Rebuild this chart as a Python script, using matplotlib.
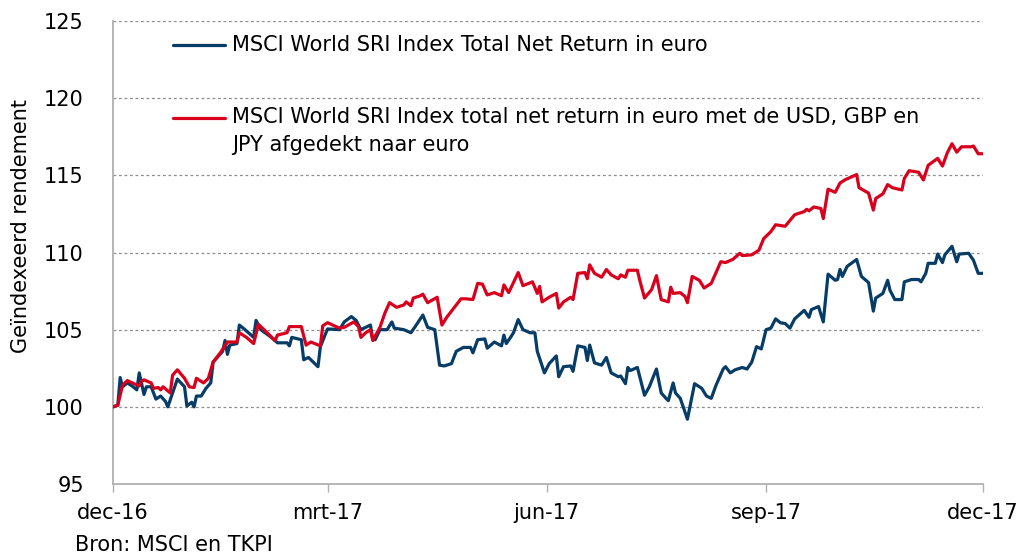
import numpy as np
import matplotlib
matplotlib.use('Agg')
import matplotlib.pyplot as plt

# ---- Data ----
START = np.datetime64('2016-12-01')

blue_days = [0, 2, 3, 4, 6, 8, 10, 11, 13, 14, 16, 18, 20, 22, 23, 27, 30, 31, 33, 34,
             35, 37, 39, 41, 42, 46, 47, 48, 49, 52, 53, 55, 59, 60, 62, 66, 69, 73, 74, 75,
             79, 80, 82, 86, 87, 90, 95, 97, 100, 102, 104, 108, 109, 110, 112, 115, 117, 118,
             122, 125, 127, 130, 132, 135, 137, 139, 142, 144, 147, 150, 151, 153, 156, 157,
             160, 163, 164, 165, 167, 168, 170, 172, 175, 177, 178, 181, 183, 186, 187, 189,
             192, 193, 195, 198, 199, 200, 202, 205, 207, 209, 212, 213, 215, 216, 217, 220,
             223, 225, 228, 230, 232, 233, 235, 236, 238, 241, 244, 247, 249, 251, 253, 256,
             257, 259, 261, 264, 266, 268, 270, 272, 274, 276, 278, 280, 282, 284, 286, 290,
             292, 293, 296, 298, 300, 303, 304, 305, 306, 308, 312, 314, 317, 319, 320, 323,
             325, 326, 328, 331, 332, 335, 338, 339, 341, 342, 345, 346, 348, 349, 352, 354,
             355, 359, 361, 363, 365]
blue_vals = [100.0, 100.1, 101.9, 101.3, 101.55, 101.35, 101.1, 102.2, 100.8, 101.3, 101.3,
             100.5, 100.7, 100.35, 100.0, 101.8, 101.3, 100.05, 100.3, 100.0, 100.7, 100.7,
             101.2, 101.55, 102.9, 103.6, 104.3, 103.4, 104.0, 104.1, 105.3, 105.05, 104.5,
             105.6, 105.0, 104.55, 104.15, 104.15, 103.95, 104.5, 104.35, 103.05, 103.2, 102.6,
             103.9, 105.05, 105.0, 105.5, 105.85, 105.6, 105.0, 105.3, 104.35, 104.35, 105.0,
             105.0, 105.5, 105.1, 105.0, 104.8, 105.25, 105.95, 105.15, 105.0, 102.7, 102.65,
             102.8, 103.6, 103.85, 103.85, 103.5, 104.35, 104.4, 103.8, 104.2, 103.95, 104.65,
             104.1, 104.55, 104.8, 105.65, 105.0, 104.8, 104.8, 103.6, 102.2, 102.8, 103.3,
             101.95, 102.6, 102.65, 102.3, 103.95, 103.85, 103.0, 104.0, 102.85, 102.7, 103.2,
             102.2, 101.95, 102.0, 101.5, 102.55, 102.35, 102.55, 100.75, 101.3, 102.45, 100.9,
             100.55, 100.4, 101.55, 100.9, 100.55, 99.2, 101.5, 101.2, 100.7, 100.55, 101.4,
             102.45, 102.6, 102.2, 102.4, 102.55, 102.45, 102.9, 103.9, 103.75, 105.0, 105.1,
             105.7, 105.45, 105.4, 105.1, 105.7, 106.25, 105.8, 106.3, 106.5, 105.5, 108.6,
             108.2, 108.25, 108.9, 108.45, 109.1, 109.55, 108.45, 108.05, 106.2, 107.05, 107.35,
             108.2, 107.55, 106.95, 106.95, 108.1, 108.25, 108.25, 108.1, 108.65, 109.3, 109.3,
             109.9, 109.35, 109.85, 110.4, 109.4, 109.9, 109.95, 109.5, 108.65, 108.65]

red_days = [0, 2, 4, 6, 11, 12, 13, 16, 17, 19, 20, 21, 24, 25, 27, 30, 32, 34, 35, 38, 40,
            42, 45, 48, 52, 53, 56, 59, 61, 64, 68, 69, 73, 74, 79, 81, 83, 87, 88, 90, 95,
            97, 101, 103, 104, 106, 108, 109, 112, 114, 116, 119, 122, 123, 125, 126, 129,
            130, 132, 136, 138, 140, 143, 146, 148, 151, 153, 155, 157, 160, 163, 164, 166,
            170, 172, 176, 178, 179, 180, 183, 186, 187, 189, 192, 193, 195, 198, 199, 200,
            202, 205, 207, 209, 212, 213, 215, 216, 220, 221, 223, 226, 228, 230, 233, 234,
            235, 238, 240, 241, 243, 246, 248, 251, 255, 257, 260, 263, 264, 268, 271, 273,
            276, 278, 282, 286, 290, 291, 292, 294, 297, 298, 300, 303, 305, 307, 312, 313,
            317, 319, 320, 323, 325, 327, 331, 332, 334, 338, 340, 342, 346, 348, 350, 352,
            354, 356, 360, 361, 363, 365]
red_vals = [100.0, 100.1, 101.4, 101.7, 101.35, 101.65, 101.75, 101.55, 101.2, 101.25, 101.1,
            101.3, 100.9, 102.05, 102.4, 101.85, 101.3, 101.25, 101.85, 101.55, 101.85, 102.9,
            103.5, 104.2, 104.2, 104.8, 104.5, 104.1, 105.35, 104.9, 104.3, 104.65, 104.8,
            105.2, 105.2, 104.0, 104.2, 103.95, 105.25, 105.45, 105.1, 105.15, 105.5, 105.2,
            104.5, 104.8, 105.0, 104.3, 105.15, 106.05, 106.75, 106.45, 106.6, 106.8, 106.55,
            107.05, 107.2, 107.3, 106.75, 107.1, 105.3, 105.8, 106.4, 107.0, 107.0, 106.95,
            108.0, 107.95, 107.25, 107.4, 107.2, 107.9, 107.4, 108.7, 107.85, 108.1, 107.35,
            107.8, 106.8, 107.1, 107.35, 106.4, 106.8, 107.1, 106.95, 108.65, 108.7, 108.3,
            109.2, 108.65, 108.4, 108.9, 108.55, 108.3, 108.55, 108.4, 108.85, 108.85, 108.2,
            107.05, 107.6, 108.5, 106.95, 106.8, 107.75, 107.35, 107.4, 107.15, 106.75, 108.45,
            108.2, 107.7, 108.0, 109.4, 109.35, 109.55, 109.95, 109.8, 109.85, 110.15, 110.9,
            111.35, 111.8, 111.7, 112.45, 112.65, 112.8, 112.7, 112.95, 112.85, 112.2, 114.1,
            113.9, 114.5, 114.7, 115.05, 114.2, 113.85, 112.75, 113.5, 113.8, 114.4, 114.2,
            114.05, 114.8, 115.3, 115.2, 114.7, 115.65, 116.1, 115.6, 116.45, 117.05, 116.5,
            116.85, 116.85, 116.9, 116.4, 116.4]

tick_dates = ['2016-12-01', '2017-03-01', '2017-06-01', '2017-09-01', '2017-12-01']
tick_labels = ['dec-16', 'mrt-17', 'jun-17', 'sep-17', 'dec-17']
y_ticks = [95, 100, 105, 110, 115, 120, 125]

label_blue = 'MSCI World SRI Index Total Net Return in euro'
label_red = ('MSCI World SRI Index total net return in euro met de USD, GBP en\n'
             'JPY afgedekt naar euro')

BLUE = '#073c66'
RED = '#d8001c'

plt.rcParams['font.family'] = ['DejaVu Sans']
FS = 15

blue_x = START + np.array(blue_days, dtype='timedelta64[D]')
red_x = START + np.array(red_days, dtype='timedelta64[D]')
tx = np.array(tick_dates, dtype='datetime64[D]')

fig = plt.figure(figsize=(10.2, 5.56), dpi=100)
ax = fig.add_axes([0.1108, 0.1295, 0.8529, 0.8327])

ax.plot(blue_x, blue_vals, color=BLUE, lw=2.3, solid_joinstyle='round', zorder=3)
ax.plot(red_x, red_vals, color=RED, lw=2.3, solid_joinstyle='round', zorder=4)

ax.set_xlim(tx[0], tx[-1])
ax.set_ylim(95, 125)
ax.set_xticks(tx)
ax.set_xticklabels(tick_labels, fontsize=FS)
ax.set_yticks(y_ticks)
ax.set_yticklabels([str(v) for v in y_ticks], fontsize=FS)

for v in y_ticks[1:]:
    ax.axhline(v, color='#8c8c8c', lw=0.9, ls=(0, (2.2, 2.2)), zorder=1)

for side in ('top', 'right'):
    ax.spines[side].set_visible(False)
for side in ('left', 'bottom'):
    ax.spines[side].set_color('#b0b0b0')
    ax.spines[side].set_linewidth(1.3)

ax.tick_params(axis='x', direction='out', length=6, width=1, color='#b0b0b0', pad=8)
ax.tick_params(axis='y', length=0, pad=21)

ax.set_ylabel('Geïndexeerd rendement', fontsize=FS)
ax.yaxis.set_label_coords(-0.094, 0.557)

# legend, drawn by hand so the red key lines up with the first text line
ax.plot([0.069, 0.129], [0.948, 0.948], transform=ax.transAxes, color=BLUE, lw=2.3,
        solid_capstyle='round', clip_on=False)
ax.text(0.1368, 0.948, label_blue, transform=ax.transAxes, fontsize=FS, va='center')
ax.plot([0.069, 0.129], [0.7905, 0.7905], transform=ax.transAxes, color=RED, lw=2.3,
        solid_capstyle='round', clip_on=False)
ax.text(0.1368, 0.815, label_red, transform=ax.transAxes, fontsize=FS, va='top',
        linespacing=1.55)

fig.text(75 / 1020, 1 - 545 / 556, 'Bron: MSCI en TKPI', fontsize=FS, va='center')

fig.savefig('out.png', dpi=100)
